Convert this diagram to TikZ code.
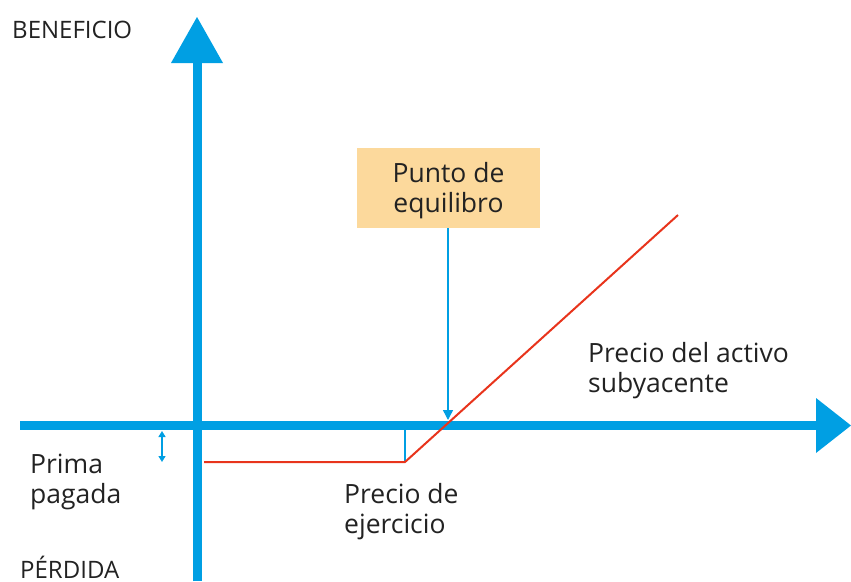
\documentclass[tikz,border=0pt]{standalone}
\usepackage{fontspec}
\setmainfont{Open Sans}
\usetikzlibrary{arrows.meta}
\definecolor{axblue}{HTML}{009FE3}
\definecolor{payred}{HTML}{E8341C}
\definecolor{boxfill}{HTML}{FCD99C}
\definecolor{txt}{HTML}{222222}
\begin{document}
\begin{tikzpicture}[x=1pt,y=-1pt,
  axis/.style={draw=axblue,line width=9pt},
  tipfill/.style={fill=axblue,draw=none},
  thinblue/.style={draw=axblue,line width=1.4pt},
  payoff/.style={draw=payred,line width=2pt},
  lab/.style={text=txt,font=\fontsize{26.5}{30}\selectfont,inner sep=0pt,anchor=base west},
  caplab/.style={text=txt,font=\fontsize{24}{28}\selectfont,inner sep=0pt,anchor=base west},
  pbox/.style={fill=boxfill,draw=none,minimum width=183pt,minimum height=80pt,inner sep=0pt},
  boxlab/.style={text=txt,font=\fontsize{26.5}{30}\selectfont,inner sep=0pt,anchor=base}]
\useasboundingbox (0,0) rectangle (851,581);
% axes
\coordinate (xl) at (20,425.5);
\coordinate (xr) at (818,425.5);
\coordinate (yb) at (197,581);
\coordinate (yt) at (197,60);
\draw[axis] (xl) -- (xr);
\draw[axis] (yb) -- (yt);
\fill[tipfill] (816,398) -- (851,425.5) -- (816,453) -- cycle;
\fill[tipfill] (171,63) -- (197,17) -- (223,63) -- cycle;
% payoff
\coordinate (p0) at (204,462);
\coordinate (pk) at (405,462);
\coordinate (p1) at (678,215);
\coordinate (kax) at (405,430);
\draw[thinblue] (kax) -- (pk);
\draw[payoff,line join=miter] (p0) -- (pk) -- (p1);
% box
\node[pbox] (be) at (448.5,188) {};
\node[boxlab] (be1) at (448.5,182) {Punto de};
\node[boxlab] (be2) at (448.5,212) {equilibro};
\coordinate (beax) at (448,420);
\draw[thinblue,-{Triangle[width=10pt,length=10pt]}] (be.south -| beax) -- (beax);
% premium double arrow
\coordinate (pa) at (162,431);
\coordinate (pb) at (162,462);
\draw[thinblue,{Triangle[width=7pt,length=6pt]}-{Triangle[width=7pt,length=6pt]}] (pa) -- (pb);
% labels
\node[caplab] (ben) at (12,38) {BENEFICIO};
\node[caplab] (per) at (20,578) {PÉRDIDA};
\node[lab] (prima1) at (30,473) {Prima};
\node[lab] (prima2) at (30,503) {pagada};
\node[lab] (strike1) at (344,503) {Precio de};
\node[lab] (strike2) at (344,533) {ejercicio};
\node[lab] (subj1) at (588,362) {Precio del activo};
\node[lab] (subj2) at (588,392) {subyacente};
\end{tikzpicture}
\end{document}
